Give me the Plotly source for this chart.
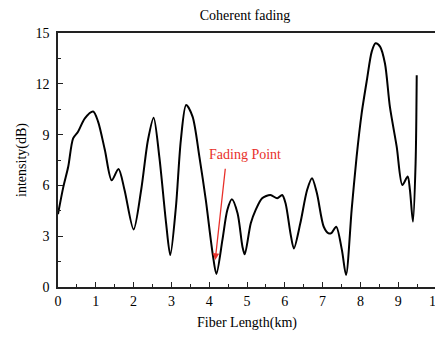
import plotly.graph_objects as go

fiber_km = [0.0, 0.14, 0.27, 0.40, 0.53, 0.71, 0.93, 1.06, 1.24, 1.42, 1.60, 1.76, 2.00, 2.20, 2.38, 2.53,
            2.68, 2.86, 2.97, 3.12, 3.25, 3.39, 3.56, 3.74, 3.91, 4.09, 4.19, 4.35, 4.48, 4.60, 4.75, 4.88, 4.94,
            5.10, 5.23, 5.40, 5.62, 5.80, 5.93, 6.02, 6.15, 6.24, 6.41, 6.59, 6.72, 6.85, 7.03, 7.16, 7.24, 7.36,
            7.51, 7.62, 7.77, 7.90, 8.03, 8.17, 8.30, 8.40, 8.52, 8.65, 8.78, 8.96, 9.11, 9.25, 9.31, 9.39, 9.46, 9.49]
intensity_db = [4.3, 5.9, 7.1, 8.78, 9.17, 9.96, 10.36, 9.77, 8.09, 6.3, 6.97, 5.73, 3.4, 5.73, 8.68, 10.0,
                7.7, 3.76, 1.89, 4.74, 8.68, 10.75, 10.06, 7.7, 5.14, 1.99, 0.77, 2.78, 4.55, 5.18, 4.35, 2.38, 1.93,
                3.76, 4.55, 5.24, 5.43, 5.24, 5.43, 4.94, 3.17, 2.28, 3.76, 5.73, 6.42, 5.53, 3.56, 3.17, 3.2, 3.56,
                2.19, 0.71, 4.6, 7.7, 10.2, 12.2, 13.9, 14.39, 14.2, 13.2, 10.65, 8.29, 6.02, 6.52, 5.73, 3.86, 7.3, 12.5]

x_ticks = [0, 1, 2, 3, 4, 5, 6, 7, 8, 9, 10]
y_ticks = [0, 3, 6, 9, 12, 15]

font_family = "Liberation Serif"

fig = go.Figure()
fig.add_trace(go.Scatter(x=fiber_km, y=intensity_db, mode="lines",
                         line=dict(color="black", width=2, shape="spline", smoothing=0.8),
                         showlegend=False, hoverinfo="skip"))

fig.add_annotation(x=4.16, y=1.6, ax=4.43, ay=7.07, xref="x", yref="y", axref="x", ayref="y",
                   text="", showarrow=True, arrowhead=2, arrowsize=1, arrowwidth=1.3, arrowcolor="#e8302a")
fig.add_annotation(x=4.96, y=7.8, xref="x", yref="y", text="Fading Point", showarrow=False,
                   font=dict(family=font_family, size=14, color="#e8302a"))

axis_common = dict(showline=True, linecolor="#222", linewidth=1.5, mirror=True, showgrid=False, zeroline=False,
                   ticks="inside", ticklen=5, tickwidth=1.3, tickcolor="#222", automargin=False,
                   tickfont=dict(family=font_family, size=14, color="black"))

fig.update_xaxes(range=[0, 10], tickvals=x_ticks, ticktext=[str(v) for v in x_ticks],
                 minor=dict(dtick=0.5, ticks="inside", ticklen=3, tickcolor="#222", tickwidth=1),
                 title=dict(text="Fiber Length(km)", font=dict(family=font_family, size=14, color="black"), standoff=10),
                 **axis_common)
fig.update_yaxes(range=[0, 15], tickvals=y_ticks, ticktext=[str(v) for v in y_ticks],
                 minor=dict(dtick=1.5, ticks="inside", ticklen=3, tickcolor="#222", tickwidth=1),
                 ticklabelstandoff=4,
                 title=dict(text="intensity(dB)", font=dict(family=font_family, size=14, color="black"), standoff=6),
                 **axis_common)

fig.update_layout(width=443, height=338, margin=dict(l=50, r=15, t=25, b=59, autoexpand=False),
                  paper_bgcolor="white", plot_bgcolor="white",
                  title=dict(text="Coherent fading", x=0.535, xanchor="center", y=0.979, yanchor="middle",
                             font=dict(family=font_family, size=14, color="black")))

fig.write_html("out.html")
